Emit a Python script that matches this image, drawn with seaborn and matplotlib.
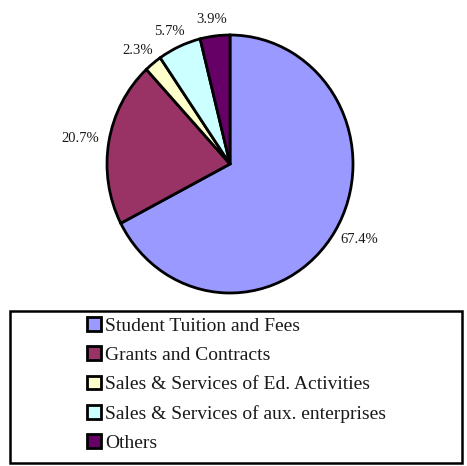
import matplotlib
matplotlib.use("Agg")
import matplotlib.pyplot as plt
import seaborn as sns
import numpy as np
from matplotlib.patches import Rectangle
from matplotlib.transforms import offset_copy

categories = ["Student Tuition and Fees", "Grants and Contracts",
              "Sales & Services of Ed. Activities",
              "Sales & Services of aux. enterprises", "Others"]
values = [67.4, 20.7, 2.3, 5.7, 3.9]
colors = ["#9999FF", "#993366", "#FFFFCC", "#CCFFFF", "#660066"]

sns.set_theme(style="white")
plt.rcParams["font.family"] = ["Liberation Serif", "DejaVu Serif"]

W, H = 467, 466
fig = plt.figure(figsize=(W / 100, H / 100), dpi=100)

# pie axes: center (230,164) px, rx=123, ry=129
cx, cy, rx, ry, lim = 230, 164, 123, 129, 1.3
aw, ah = 2 * lim * rx, 2 * lim * ry
ax = fig.add_axes([(cx - aw / 2) / W, 1 - (cy + ah / 2) / H, aw / W, ah / H])
wedges, texts, autotexts = ax.pie(
    values, colors=colors, startangle=90, counterclock=False,
    autopct="%1.1f%%", pctdistance=1.2,
    wedgeprops=dict(edgecolor="black", linewidth=2.0),
    textprops=dict(fontsize=10.5, color="#1a1a1a"))
ax.set_aspect("auto")
ax.set_xlim(-lim, lim)
ax.set_ylim(-lim, lim)
ax.axis("off")

# Excel-like "outside end" label placement
fig.canvas.draw()
rend = fig.canvas.get_renderer()
r0 = 1.08
for w, t in zip(wedges, autotexts):
    ang = np.deg2rad((w.theta1 + w.theta2) / 2)
    bb = t.get_window_extent(rend)
    c, s = np.cos(ang), np.sin(ang)
    t.set_position((r0 * c, r0 * s))
    t.set_ha("center")
    t.set_va("center")
    t.set_transform(offset_copy(ax.transData, fig=fig,
                                x=bb.width / 2 * c, y=bb.height / 2 * s,
                                units="dots"))

# legend box
fig.patches.append(Rectangle((10 / W, 1 - 463 / H), 452 / W, 152 / H,
                             transform=fig.transFigure, fill=False,
                             edgecolor="black", linewidth=1.8))
leg = fig.legend(wedges, categories, loc="upper left",
                 bbox_to_anchor=(87 / W, 1 - 317 / H), frameon=False,
                 fontsize=14, handlelength=0.7, handleheight=0.7,
                 handletextpad=0.25, labelspacing=0.6, borderpad=0,
                 borderaxespad=0)
for t in leg.get_texts():
    t.set_color("#1a1a1a")

fig.savefig("out.png", dpi=100)
